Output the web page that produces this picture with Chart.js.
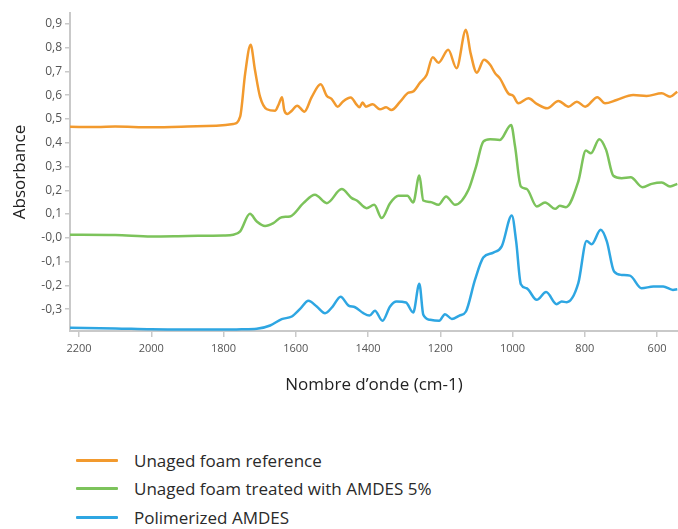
<!DOCTYPE html>
<html>
<head>
<meta charset="utf-8">
<script src="https://cdn.jsdelivr.net/npm/chart.js@4/dist/chart.umd.min.js"></script>
<style>
  html, body { margin: 0; padding: 0; background: #fff; }
  body { width: 678px; height: 529px; position: relative; overflow: hidden; font-family: "Open Sans", sans-serif; }
  #chart { position: absolute; left: 0; top: 0; }
  #legend { position: absolute; left: 76px; top: 446px; }
  .item { display: flex; align-items: center; height: 28.5px; font-size: 17px; color: #2a2a2a; }
  .swatch { width: 42px; height: 3px; margin-right: 16px; border-radius: 1px; }
</style>
</head>
<body>
<canvas id="chart" width="678" height="395"></canvas>
<div id="legend"></div>
<script>
const seriesNames = ["Unaged foam reference", "Unaged foam treated with AMDES 5%", "Polimerized AMDES"];
const seriesColors = ["#f29a2e", "#7cc35b", "#2ea6e2"];

const xTicks = [2200, 2000, 1800, 1600, 1400, 1200, 1000, 800, 600];
const yTicks = [-0.3, -0.2, -0.1, 0, 0.1, 0.2, 0.3, 0.4, 0.5, 0.6, 0.7, 0.8, 0.9];
const yTickLabels = ["-0,3", "-0,2", "-0,1", "-0,0", "0,1", "0,2", "0,3", "0,4", "0,5", "0,6", "0,7", "0,8", "0,9"];

// wavenumbers (cm-1) and absorbance
const refWave = [2225, 2150, 2100, 2000, 1900, 1820, 1773, 1754, 1740, 1725, 1713, 1699, 1680, 1657, 1648, 1638, 1632, 1623, 1611, 1596, 1576, 1556, 1531, 1514, 1501, 1484, 1470, 1448, 1431, 1424, 1415, 1406, 1387, 1367, 1350, 1335, 1311, 1288, 1276, 1256, 1238, 1221, 1205, 1178, 1155, 1129, 1116, 1099, 1079, 1062, 1048, 1035, 1012, 998, 984, 956, 933, 904, 873, 845, 822, 799, 765, 744, 712, 666, 629, 587, 564, 544];
const refAbs = [0.467, 0.466, 0.468, 0.465, 0.468, 0.472, 0.479, 0.510, 0.693, 0.812, 0.706, 0.594, 0.541, 0.535, 0.559, 0.592, 0.537, 0.521, 0.535, 0.556, 0.531, 0.592, 0.646, 0.597, 0.585, 0.552, 0.573, 0.590, 0.559, 0.549, 0.569, 0.552, 0.562, 0.541, 0.549, 0.538, 0.573, 0.611, 0.615, 0.653, 0.685, 0.760, 0.737, 0.791, 0.714, 0.875, 0.776, 0.695, 0.749, 0.728, 0.692, 0.671, 0.608, 0.597, 0.566, 0.587, 0.564, 0.545, 0.576, 0.552, 0.573, 0.552, 0.592, 0.566, 0.580, 0.601, 0.597, 0.608, 0.594, 0.615];

const treatedWave = [2225, 2100, 2000, 1900, 1800, 1773, 1754, 1727, 1708, 1685, 1662, 1639, 1616, 1579, 1547, 1514, 1473, 1445, 1431, 1404, 1383, 1362, 1339, 1316, 1291, 1275, 1258, 1247, 1228, 1205, 1184, 1159, 1122, 1101, 1081, 1062, 1035, 1004, 993, 977, 961, 933, 910, 882, 869, 852, 818, 797, 783, 760, 741, 721, 698, 673, 640, 615, 587, 564, 544];
const treatedAbs = [0.013, 0.012, 0.006, 0.008, 0.010, 0.013, 0.027, 0.101, 0.069, 0.050, 0.062, 0.087, 0.090, 0.146, 0.181, 0.146, 0.205, 0.167, 0.157, 0.125, 0.139, 0.083, 0.146, 0.177, 0.177, 0.149, 0.262, 0.157, 0.151, 0.139, 0.174, 0.139, 0.202, 0.300, 0.405, 0.415, 0.412, 0.475, 0.384, 0.216, 0.206, 0.132, 0.149, 0.122, 0.135, 0.129, 0.237, 0.367, 0.356, 0.415, 0.370, 0.261, 0.251, 0.255, 0.213, 0.227, 0.233, 0.216, 0.227];

const amdesWave = [2225, 2100, 2000, 1900, 1800, 1750, 1708, 1671, 1639, 1611, 1588, 1565, 1542, 1519, 1498, 1476, 1454, 1436, 1413, 1396, 1381, 1360, 1339, 1321, 1295, 1275, 1258, 1247, 1228, 1203, 1187, 1168, 1147, 1129, 1104, 1081, 1053, 1030, 1002, 990, 977, 961, 933, 907, 878, 864, 850, 818, 795, 781, 756, 739, 719, 698, 675, 643, 610, 583, 556, 544];
const amdesAbs = [-0.378, -0.381, -0.385, -0.386, -0.386, -0.385, -0.383, -0.369, -0.342, -0.331, -0.299, -0.265, -0.289, -0.317, -0.289, -0.248, -0.285, -0.292, -0.317, -0.327, -0.307, -0.349, -0.289, -0.268, -0.272, -0.314, -0.193, -0.324, -0.345, -0.349, -0.321, -0.341, -0.327, -0.310, -0.177, -0.083, -0.062, -0.036, 0.094, -0.015, -0.195, -0.212, -0.261, -0.228, -0.279, -0.268, -0.271, -0.191, -0.013, -0.027, 0.034, -0.015, -0.142, -0.156, -0.159, -0.212, -0.205, -0.205, -0.219, -0.216];

function toPoints(waves, values) {
  return waves.map((w, i) => ({ x: w, y: values[i] }));
}

const series = [
  toPoints(refWave, refAbs),
  toPoints(treatedWave, treatedAbs),
  toPoints(amdesWave, amdesAbs)
];

const axisColor = "#c9c9c9";

new Chart(document.getElementById("chart"), {
  type: "line",
  data: {
    datasets: series.map((data, i) => ({
      label: seriesNames[i],
      data,
      borderColor: seriesColors[i],
      borderWidth: 2.5,
      pointRadius: 0,
      cubicInterpolationMode: "monotone",
      fill: false
    }))
  },
  options: {
    responsive: false,
    animation: false,
    layout: { padding: { top: 13, right: 0, left: 0, bottom: 0 } },
    plugins: { legend: { display: false }, tooltip: { enabled: false } },
    scales: {
      x: {
        type: "linear",
        reverse: true,
        min: 542,
        max: 2225,
        afterBuildTicks: (scale) => { scale.ticks = xTicks.map((value) => ({ value })); },
        afterFit: (scale) => { scale.height = 64; },
        ticks: { color: "#555", font: { family: "Open Sans", size: 11 }, padding: 5, maxRotation: 0, callback: (value) => String(value) },
        grid: { drawOnChartArea: false, color: axisColor, lineWidth: 1.5, tickLength: 6 },
        border: { color: axisColor, width: 2 },
        title: { display: true, text: "Nombre d’onde (cm-1)", color: "#222", font: { family: "Open Sans", size: 17 }, padding: { top: 0, bottom: 0 } }
      },
      y: {
        min: -0.392,
        max: 0.946,
        afterBuildTicks: (scale) => { scale.ticks = yTicks.map((value) => ({ value })); },
        afterFit: (scale) => { scale.width = 70; },
        ticks: { color: "#555", font: { family: "Open Sans", size: 12 }, padding: 3, callback: (value, index) => yTickLabels[index] },
        grid: { drawOnChartArea: false, color: axisColor, lineWidth: 1.5, tickLength: 5 },
        border: { color: axisColor, width: 2 },
        title: { display: true, text: "Absorbance", color: "#222", font: { family: "Open Sans", size: 17 }, padding: { top: 10, bottom: 0 } }
      }
    }
  }
});

const legend = document.getElementById("legend");
seriesNames.forEach((name, i) => {
  const item = document.createElement("div");
  item.className = "item";
  const swatch = document.createElement("span");
  swatch.className = "swatch";
  swatch.style.background = seriesColors[i];
  const label = document.createElement("span");
  label.textContent = name;
  item.appendChild(swatch);
  item.appendChild(label);
  legend.appendChild(item);
});
</script>
</body>
</html>
